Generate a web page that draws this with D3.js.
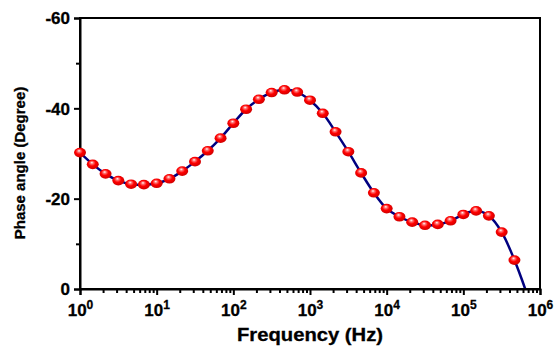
<!DOCTYPE html>
<html><head><meta charset="utf-8">
<script src="https://cdn.jsdelivr.net/npm/d3@7"></script>
<style>body{margin:0;background:#fff}svg{display:block}text{font-family:"Liberation Sans",Arial,sans-serif;font-weight:bold;fill:#000;stroke:#000;stroke-width:0.3px}</style>
</head><body>
<script>
// data: frequency exponents (6 points per decade) and phase angle (degree)
const logFreq = [0,0.1667,0.3333,0.5,0.6667,0.8333,1,1.1667,1.3333,1.5,1.6667,1.8333,2,2.1667,2.3333,2.5,2.6667,2.8333,3,3.1667,3.3333,3.5,3.6667,3.8333,4,4.1667,4.3333,4.5,4.6667,4.8333,5,5.1667,5.3333,5.5,5.6667];
const phase = [-30.2,-27.6,-25.5,-24.0,-23.2,-23.1,-23.4,-24.4,-26.1,-28.2,-30.6,-33.4,-36.7,-39.8,-42.0,-43.5,-44.1,-43.6,-41.8,-38.9,-34.8,-30.4,-25.7,-21.3,-17.8,-16.0,-14.8,-14.1,-14.3,-15.1,-16.5,-17.3,-16.2,-12.6,-6.4];
// fitted curve tail beyond the last measured point
const tailLogFreq = [5.9];
const tailPhase = [4.5];
const yTicks = [0,-20,-40,-60];
const yMinor = [-10,-30,-50];
const xTickExp = [0,1,2,3,4,5,6];

const W=555,H=347, m={l:80,r:15,t:18,b:58};
const svg=d3.select("body").append("svg").attr("width",W).attr("height",H);
const x=d3.scaleLog().domain([1,1e6]).range([m.l,W-m.r]);
const y=d3.scaleLinear().domain([0,-60]).range([H-m.b,m.t]);

const defs=svg.append("defs");
const g=defs.append("radialGradient").attr("id","ball").attr("cx","45%").attr("cy","45%").attr("r","60%").attr("fx","42%").attr("fy","30%");
g.append("stop").attr("offset","0%").attr("stop-color","#ffffff");
g.append("stop").attr("offset","22%").attr("stop-color","#ff7070");
g.append("stop").attr("offset","50%").attr("stop-color","#ff0000");
g.append("stop").attr("offset","100%").attr("stop-color","#c80000");
defs.append("clipPath").attr("id","clip").append("rect")
  .attr("x",m.l).attr("y",m.t).attr("width",W-m.r-m.l).attr("height",H-m.b-m.t);

// fitted line
const linePts=logFreq.map((e,i)=>[Math.pow(10,e),phase[i]])
  .concat(tailLogFreq.map((e,i)=>[Math.pow(10,e),tailPhase[i]]));
svg.append("path").attr("clip-path","url(#clip)")
  .attr("d",d3.line().x(d=>x(d[0])).y(d=>y(d[1])).curve(d3.curveCatmullRom)(linePts))
  .attr("fill","none").attr("stroke","#000080").attr("stroke-width",2.5);

// frame
svg.append("rect").attr("x",m.l).attr("y",m.t).attr("width",W-m.r-m.l).attr("height",H-m.b-m.t)
  .attr("fill","none").attr("stroke","#000").attr("stroke-width",2);

// y axis
const ya=svg.append("g").attr("transform",`translate(${m.l},0)`)
  .call(d3.axisLeft(y).tickValues(yTicks).tickSize(6).tickPadding(4).tickFormat(d=>String(d)));
ya.select(".domain").attr("stroke-width",2);
ya.selectAll(".tick line").attr("stroke-width",2);
ya.selectAll("text").style("font-size","17px").attr("dy","0.35em");
const yb=svg.append("g").attr("transform",`translate(${m.l},0)`)
  .call(d3.axisLeft(y).tickValues(yMinor).tickSize(4).tickFormat(""));
yb.select(".domain").remove(); yb.selectAll(".tick line").attr("stroke-width",2);

// x axis
const minor=[];
for(let e=0;e<6;e++) for(let k=2;k<=9;k++) minor.push(k*Math.pow(10,e));
const xb=svg.append("g").attr("transform",`translate(0,${H-m.b})`)
  .call(d3.axisBottom(x).tickValues(minor).tickSize(4).tickFormat(""));
xb.select(".domain").remove(); xb.selectAll(".tick line").attr("stroke-width",2);
const xa=svg.append("g").attr("transform",`translate(0,${H-m.b})`)
  .call(d3.axisBottom(x).tickValues(xTickExp.map(e=>Math.pow(10,e))).tickSize(6).tickFormat(""));
xa.select(".domain").attr("stroke-width",2);
xa.selectAll(".tick line").attr("stroke-width",2);
xa.selectAll(".tick").each(function(d,i){
  const t=d3.select(this).append("text").attr("y",27).attr("text-anchor","middle").style("font-size","17px");
  t.append("tspan").text("10");
  t.append("tspan").attr("dy","-7").style("font-size","12px").text(xTickExp[i]);
});

// markers
svg.append("g").selectAll("ellipse").data(logFreq).join("ellipse")
  .attr("cx",(e)=>x(Math.pow(10,e))).attr("cy",(e,i)=>y(phase[i]))
  .attr("rx",6).attr("ry",4.8).attr("fill","url(#ball)");

// labels
svg.append("text").attr("x",(m.l+W-m.r)/2-73).attr("y",341)
  .attr("textLength",146).attr("lengthAdjust","spacingAndGlyphs")
  .style("font-size","18px").text("Frequency (Hz)");
svg.append("text").attr("transform",`translate(25,${163}) rotate(-90)`).attr("text-anchor","middle")
  .style("font-size","15px").text("Phase angle (Degree)");
</script>
</body></html>
